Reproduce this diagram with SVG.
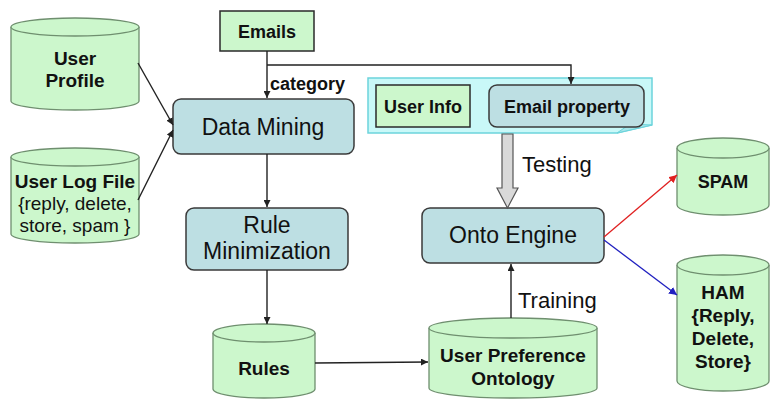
<svg xmlns="http://www.w3.org/2000/svg" width="770" height="401" viewBox="0 0 770 401">
<defs>
<style>
.cyl{fill:#ccf7cc;stroke:#6f8f6f;stroke-width:1.3}
.box{fill:#bddfe3;stroke:#3a3a3a;stroke-width:1.5}
.gbox{fill:#ccf7cc;stroke:#2a2a2a;stroke-width:1.5}
.b{font-family:"Liberation Sans",Arial,sans-serif;font-weight:bold;font-size:19px;fill:#111;text-anchor:middle}
.r{font-family:"Liberation Sans",Arial,sans-serif;font-size:23px;fill:#111;text-anchor:middle}
.rs{font-family:"Liberation Sans",Arial,sans-serif;font-size:19px;fill:#111;text-anchor:middle}
.ln{fill:none;stroke:#222;stroke-width:1.4}
</style>
<marker id="ah" viewBox="0 0 10 10" refX="10" refY="5" markerWidth="7" markerHeight="7" orient="auto" markerUnits="userSpaceOnUse"><path d="M0,0 L10,5 L0,10 Z" fill="#222"/></marker>
<marker id="ahr" viewBox="0 0 10 10" refX="10" refY="5" markerWidth="8" markerHeight="8" orient="auto" markerUnits="userSpaceOnUse"><path d="M0,0 L10,5 L0,10 Z" fill="#e02020"/></marker>
<marker id="ahb" viewBox="0 0 10 10" refX="10" refY="5" markerWidth="8" markerHeight="8" orient="auto" markerUnits="userSpaceOnUse"><path d="M0,0 L10,5 L0,10 Z" fill="#2020c0"/></marker>
</defs>
<rect width="770" height="401" fill="#ffffff"/>

<g id="user-profile">
<path class="cyl" d="M11,27 V101 A64,9 0 0 0 139,101 V27"/>
<ellipse class="cyl" cx="75" cy="27" rx="64" ry="9"/>
<text x="75" y="65" class="b">User</text>
<text x="75" y="87" class="b">Profile</text>
</g>

<g id="user-log-file">
<path class="cyl" d="M11,157 V234 A64,9 0 0 0 139,234 V157"/>
<ellipse class="cyl" cx="75" cy="157" rx="64" ry="9"/>
<text x="75" y="188" class="b">User Log File</text>
<text x="75" y="210" class="rs">{reply, delete,</text>
<text x="75" y="232" class="rs">store, spam }</text>
</g>

<g id="emails">
<rect class="gbox" x="220" y="11" width="94" height="40"/>
<text x="267" y="38" class="b" style="font-size:18px">Emails</text>
</g>

<g id="data-mining">
<rect class="box" x="173" y="99" width="181" height="55" rx="8"/>
<text x="263" y="135" class="r">Data Mining</text>
</g>

<g id="rule-minimization">
<rect class="box" x="186" y="208" width="162" height="62" rx="8"/>
<text x="267" y="233" class="r">Rule</text>
<text x="267" y="259" class="r">Minimization</text>
</g>

<g id="rules">
<path class="cyl" d="M213,333 V389 A51,9 0 0 0 315,389 V333"/>
<ellipse class="cyl" cx="264" cy="333" rx="51" ry="9"/>
<text x="264" y="375" class="b">Rules</text>
</g>

<g id="user-preference-ontology">
<path class="cyl" d="M429,328 V388 A84,10 0 0 0 597,388 V328"/>
<ellipse class="cyl" cx="513" cy="328" rx="84" ry="10"/>
<text x="513" y="362" class="b">User Preference</text>
<text x="513" y="385" class="b">Ontology</text>
</g>

<g id="email-context">
<path d="M368,78 H652 V125 L617,133 H368 Z" fill="#c9f8f8" stroke="#6cd4dc" stroke-width="1.5"/>
<path d="M617,133 L652,125 L630,124 Z" fill="#a8e6ea" stroke="#6cd4dc" stroke-width="1"/>
<g id="user-info">
<rect class="gbox" x="376" y="85" width="94" height="42"/>
<text x="423" y="113" class="b" style="font-size:18px">User Info</text>
</g>
<g id="email-property">
<rect class="box" x="489" y="85" width="155" height="42" rx="8"/>
<text x="567" y="113" class="b" style="font-size:18px">Email property</text>
</g>
</g>

<g id="onto-engine">
<rect class="box" x="422" y="208" width="182" height="55" rx="8"/>
<text x="513" y="243" class="r">Onto Engine</text>
</g>

<g id="spam">
<path class="cyl" d="M677,148 V205 A46,10 0 0 0 769,205 V148"/>
<ellipse class="cyl" cx="723" cy="148" rx="46" ry="10"/>
<text x="723" y="188" class="b" style="font-size:18px">SPAM</text>
</g>

<g id="ham">
<path class="cyl" d="M677,265 V381 A46,10 0 0 0 769,381 V265"/>
<ellipse class="cyl" cx="723" cy="265" rx="46" ry="10"/>
<text x="723" y="299" class="b">HAM</text>
<text x="723" y="322" class="b">{Reply,</text>
<text x="723" y="345" class="b">Delete,</text>
<text x="723" y="368" class="b">Store}</text>
</g>

<g id="connectors">
<path class="ln" d="M267,51 V98" marker-end="url(#ah)"/>
<path class="ln" d="M267,65 H571 V84" marker-end="url(#ah)"/>
<path class="ln" d="M138,63 L173,125" marker-end="url(#ah)"/>
<path class="ln" d="M138,200 L173,130" marker-end="url(#ah)"/>
<path class="ln" d="M267,154 V207" marker-end="url(#ah)"/>
<path class="ln" d="M267,270 V324" marker-end="url(#ah)"/>
<path class="ln" d="M315,363 L428,362" marker-end="url(#ah)"/>
<path class="ln" d="M511,318 V264" marker-end="url(#ah)"/>
<path fill="none" stroke="#e02020" stroke-width="1.3" d="M604,237 L677,175" marker-end="url(#ahr)"/>
<path fill="none" stroke="#2020c0" stroke-width="1.3" d="M604,240 L677,295" marker-end="url(#ahb)"/>
<polygon points="502,134 513,134 513,188 518,188 507.5,208 497,188 502,188" fill="#d9d9d9" stroke="#555" stroke-width="1.2"/>
<text x="522" y="172" class="rs" style="font-size:22px;text-anchor:start">Testing</text>
<text x="518" y="308" class="rs" style="font-size:22px;text-anchor:start">Training</text>
<text x="270" y="90" class="b" style="font-size:18px;text-anchor:start">category</text>
</g>
</svg>
